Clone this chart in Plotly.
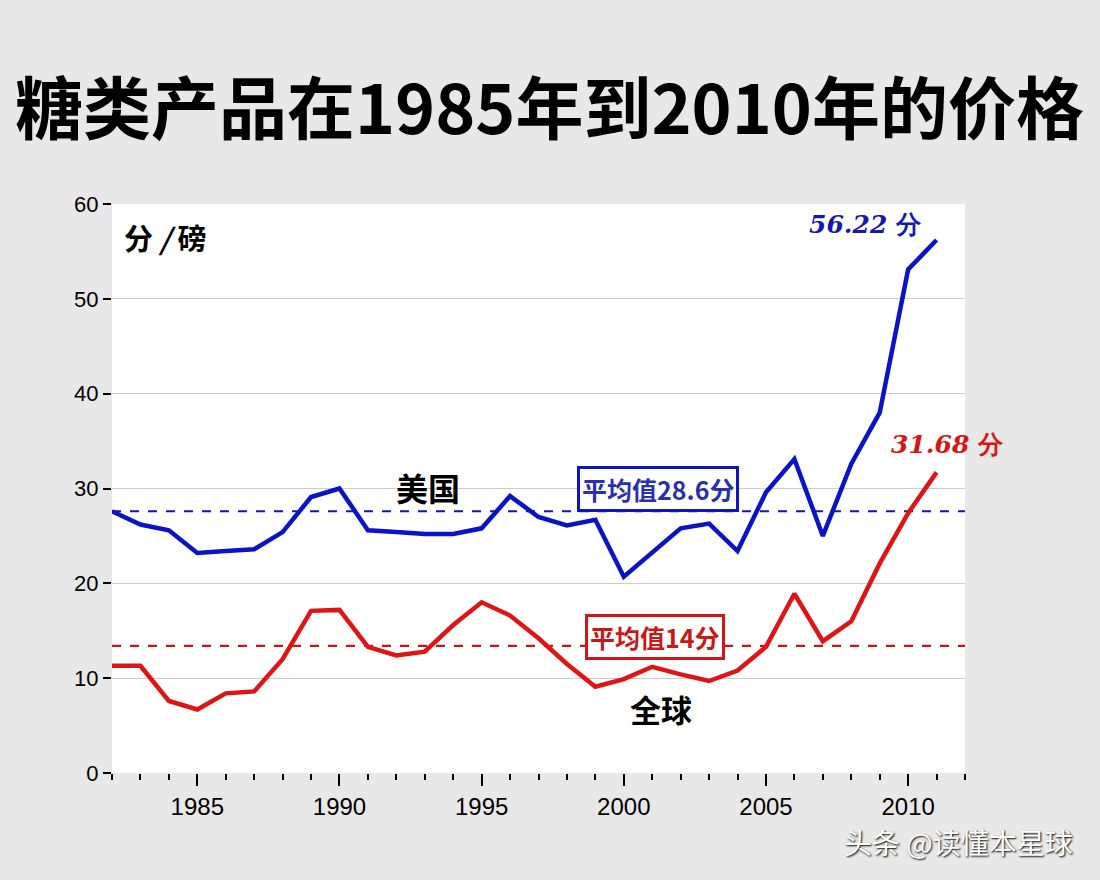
import plotly.graph_objects as go

years = list(range(1982, 2012))
us_price = [27.6, 26.2, 25.6, 23.2, 23.4, 23.6, 25.4, 29.1, 30.0, 25.6,
            25.4, 25.2, 25.2, 25.8, 29.2, 27.0, 26.1, 26.7, 20.7, 23.3,
            25.8, 26.3, 23.4, 29.6, 33.1, 25.0, 32.6, 38.0, 53.1, 56.2]
world_price = [11.3, 11.3, 7.6, 6.7, 8.4, 8.6, 12.0, 17.1, 17.2, 13.3,
               12.4, 12.8, 15.6, 18.0, 16.6, 14.2, 11.5, 9.1, 9.9, 11.2,
               10.4, 9.7, 10.8, 13.3, 18.9, 13.9, 16.0, 22.1, 27.4, 31.7]
us_avg = 27.6
world_avg = 13.4
x_range = [1982, 2012]
y_range = [0, 60]

BLUE = "#0b13c9"
RED = "#e01414"

fig = go.Figure()
fig.add_trace(go.Scatter(x=x_range, y=[us_avg, us_avg], mode="lines",
                         line=dict(color="#141a9c", width=2.2, dash="dash"),
                         hoverinfo="skip", showlegend=False))
fig.add_trace(go.Scatter(x=x_range, y=[world_avg, world_avg], mode="lines",
                         line=dict(color="#c01818", width=2.2, dash="dash"),
                         hoverinfo="skip", showlegend=False))
fig.add_trace(go.Scatter(x=years, y=us_price, mode="lines",
                         line=dict(color=BLUE, width=4.5), showlegend=False))
fig.add_trace(go.Scatter(x=years, y=world_price, mode="lines",
                         line=dict(color=RED, width=4.5), showlegend=False))

CJK = "Noto Sans CJK SC"
SERIF = "DejaVu Serif, Liberation Serif, serif"
anns = [
    dict(text="<b>糖类产品在1985年到2010年的价格</b>", xref="paper", yref="paper",
         x=-0.116, y=1.174, xanchor="left", yanchor="middle", showarrow=False,
         font=dict(family=CJK, size=68, color="black")),
    dict(text="<b>分 <i>/</i> 磅</b>", xref="paper", yref="paper", x=0.012, y=0.942,
         xanchor="left", yanchor="middle", showarrow=False,
         font=dict(family=CJK, size=29, color="black")),
    dict(text="<b>美国</b>", x=1993.1, y=30.2, showarrow=False,
         font=dict(family=CJK, size=32, color="black")),
    dict(text="<b>全球</b>", x=2001.3, y=6.8, showarrow=False,
         font=dict(family=CJK, size=31, color="black")),
    dict(text="<b>平均值28.6分</b>", x=2001.2, y=29.9, showarrow=False,
         font=dict(family=CJK, size=25, color="#2a2fb0"),
         bordercolor="#1015c0", borderwidth=3, borderpad=2, bgcolor="white"),
    dict(text="<b>平均值14分</b>", x=2001.1, y=14.3, showarrow=False,
         font=dict(family=CJK, size=25, color="#c81818"),
         bordercolor="#d01818", borderwidth=3, borderpad=2, bgcolor="white"),
    dict(text="<b><i>56.22</i></b><b> 分</b>", x=2008.5, y=57.8, showarrow=False,
         font=dict(family=SERIF, size=25, color="#1418b0")),
    dict(text="<b><i>31.68</i></b><b> 分</b>", x=2011.4, y=34.6, showarrow=False,
         font=dict(family=SERIF, size=25, color="#d81414")),
    dict(text="头条 @读懂本星球", xref="paper", yref="paper", x=1.129, y=-0.122,
         xanchor="right", yanchor="middle", showarrow=False,
         font=dict(family=CJK, size=28, color="white", shadow="1px 1px 2px #000")),
]

fig.update_layout(
    width=1100, height=880,
    margin=dict(l=112, r=135, t=204, b=107),
    paper_bgcolor="#e8e8e8", plot_bgcolor="white",
    annotations=anns,
    xaxis=dict(range=x_range, tick0=1985, dtick=5, ticks="outside", ticklen=12,
               tickwidth=2, tickcolor="black", showgrid=False, zeroline=False,
               showline=False,
               tickfont=dict(family="Liberation Sans Narrow, Arial Narrow, Liberation Sans", size=24, color="black"),
               minor=dict(tick0=1982, dtick=1, ticks="outside", ticklen=6,
                          tickwidth=2, tickcolor="black", showgrid=False)),
    yaxis=dict(range=y_range, dtick=10, ticks="outside", ticklen=8, tickwidth=2,
               tickcolor="black", showgrid=True, gridcolor="#cccccc", gridwidth=1,
               zeroline=False, showline=False,
               tickfont=dict(family="Liberation Sans, Arial", size=22, color="black")),
)

fig.write_html("out.html")
